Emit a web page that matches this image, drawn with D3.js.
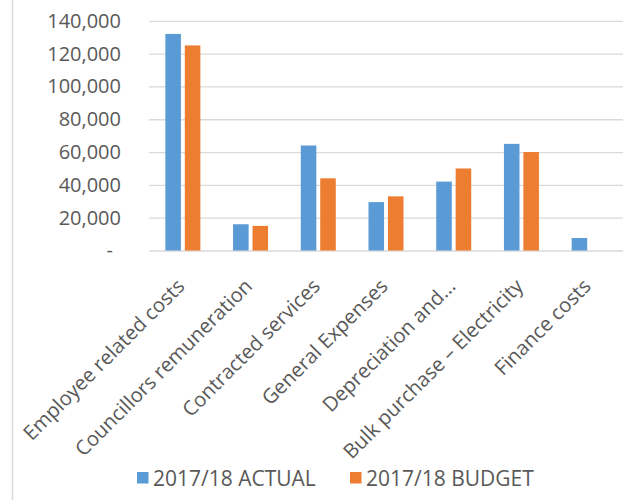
<!DOCTYPE html>
<html>
<head>
<meta charset="utf-8">
<script src="https://cdn.jsdelivr.net/npm/d3@7"></script>
<style>
  html, body { margin: 0; padding: 0; background: #fff; }
  svg { display: block; }
  text { font-family: "Open Sans", "Noto Sans", sans-serif; fill: #595959; }
</style>
</head>
<body>
<svg id="chart" width="625" height="500"></svg>
<script>
// Expenditure by category, actual vs budget
const categories = [
  "Employee related costs",
  "Councillors remuneration",
  "Contracted services",
  "General Expenses",
  "Depreciation and...",
  "Bulk purchase \u2013 Electricity",
  "Finance costs"
];
const seriesNames = ["2017/18 ACTUAL", "2017/18 BUDGET"];
const actual = [132000, 16000, 64000, 29500, 42000, 65000, 7600];
const budget = [125000, 15000, 44000, 33000, 50000, 60000, 0];
const yTicks = [0, 20000, 40000, 60000, 80000, 100000, 120000, 140000];
const colors = ["#5B9BD5", "#ED7D31"];

const rows = categories.map((c, i) => ({ category: c, values: [actual[i], budget[i]] }));

const svg = d3.select("#chart");
const plot = { left: 149, right: 623, top: 20.8, bottom: 250.5 };

// chart frame edge on the left
svg.append("line")
  .attr("x1", 12.5).attr("x2", 12.5).attr("y1", 0).attr("y2", 500)
  .attr("stroke", "#d9d9d9").attr("stroke-width", 1.5);

const x0 = d3.scaleBand().domain(categories).range([plot.left, plot.right]);
const x1 = d3.scaleBand().domain(seriesNames).range([-17.5, 17.5]).paddingInner(0.2);
const y = d3.scaleLinear().domain([0, 140000]).range([plot.bottom, plot.top]);

// gridlines and value labels
const yAxis = d3.axisLeft(y)
  .tickValues(yTicks)
  .tickSize(-(plot.right - plot.left))
  .tickPadding(28)
  .tickFormat(d => d === 0 ? "-" : d3.format(",")(d));

const gy = svg.append("g")
  .attr("transform", `translate(${plot.left},0)`)
  .call(yAxis);
gy.select(".domain").remove();
gy.selectAll(".tick line").attr("stroke", "#d9d9d9").attr("stroke-width", 1.3);
gy.selectAll(".tick text")
  .attr("font-size", 20)
  .style("font-family", '"Open Sans", sans-serif')
  .attr("fill", "#595959")
  .attr("dx", d => d === 0 ? -8 : 0);

// bars
const groups = svg.append("g").selectAll("g")
  .data(rows).join("g")
  .attr("transform", d => `translate(${x0(d.category) + x0.bandwidth() / 2},0)`);

groups.selectAll("rect")
  .data(d => d.values.map((v, k) => ({ key: seriesNames[k], value: v, k })))
  .join("rect")
  .filter(d => d.value > 0)
  .attr("x", d => x1(d.key))
  .attr("width", x1.bandwidth())
  .attr("y", d => y(d.value))
  .attr("height", d => y(0) - y(d.value))
  .attr("fill", d => colors[d.k]);

// category labels, rotated
const xAxis = svg.append("g");
xAxis.selectAll("text")
  .data(categories).join("text")
  .attr("transform", d => `translate(${x0(d) + x0.bandwidth() / 2 - 2},${plot.bottom + 32}) rotate(-45)`)
  .attr("text-anchor", "end")
  .attr("dy", "0.35em")
  .attr("font-size", 20.2)
  .text(d => d);

// legend
const legendX = [137, 350];
const legend = svg.append("g").selectAll("g")
  .data(seriesNames).join("g")
  .attr("transform", (d, i) => `translate(${legendX[i]},472)`);
legend.append("rect").attr("width", 11.5).attr("height", 11.5).attr("fill", (d, i) => colors[i]);
legend.append("text")
  .attr("x", 16).attr("y", 13.5)
  .attr("font-size", 21)
  .text(d => d);
</script>
</body>
</html>
